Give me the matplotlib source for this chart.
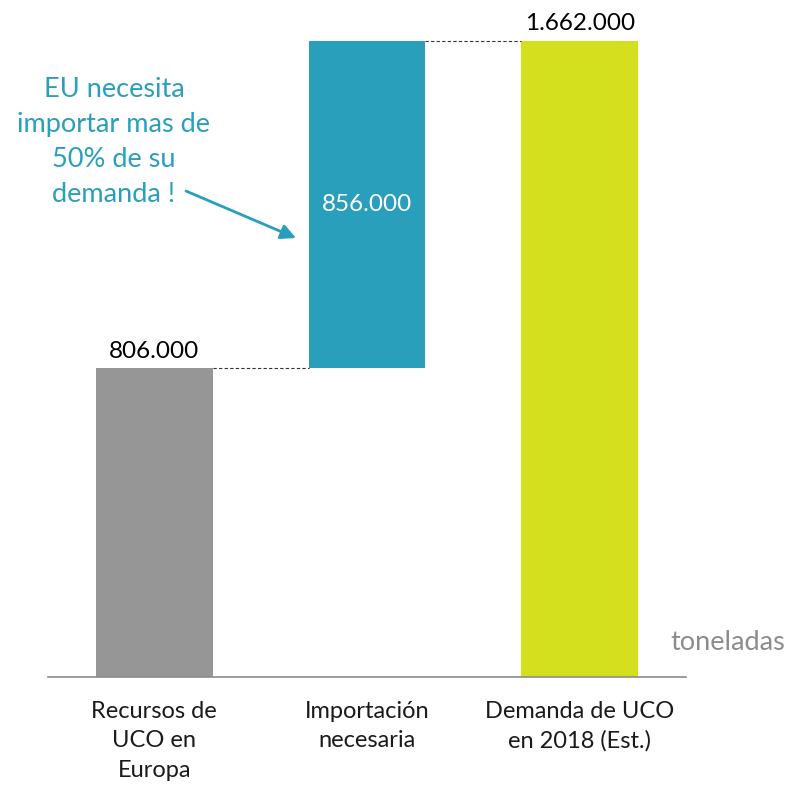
import numpy as np
import matplotlib.pyplot as plt

plt.rcParams['font.family'] = ['Lato', 'DejaVu Sans']

# data (toneladas)
categories = ["Recursos de\nUCO en\nEuropa", "Importación\nnecesaria", "Demanda de UCO\nen 2018 (Est.)"]
recursos = 806000
importacion = 856000
demanda = 1662000
bottoms = [0, recursos, 0]
heights = [recursos, importacion, demanda]
labels = ["806.000", "856.000", "1.662.000"]
colors = ["#969696", "#2a9fbc", "#d4e01d"]

fig = plt.figure(figsize=(7.89, 7.85), dpi=100)
ax = fig.add_axes([48/789, 108/785, (686-48)/789, 666/785])

x = np.arange(len(categories))
w = 0.55
ax.bar(x, heights, bottom=bottoms, width=w, color=colors, zorder=2)

# connectors
ax.plot([x[0] + w/2, x[1] - w/2], [recursos, recursos], ls=(0, (3, 2)), color="#333333", lw=0.8)
ax.plot([x[1] + w/2, x[2] - w/2], [demanda, demanda], ls=(0, (3, 2)), color="#333333", lw=0.8)

# value labels
ax.text(x[0], recursos + 18000, labels[0], ha="center", va="bottom", fontsize=17.5, color="black")
ax.text(x[1], recursos + importacion/2, labels[1], ha="center", va="center", fontsize=17.5, color="white")
ax.text(x[2], demanda + 18000, labels[2], ha="center", va="bottom", fontsize=17.5, color="black")

ax.set_xlim(-0.5, 2.5)
ax.set_ylim(0, 1.74e6)
for s in ["top", "right", "left"]:
    ax.spines[s].set_visible(False)
ax.spines["bottom"].set_color("#8c8c8c")
ax.spines["bottom"].set_linewidth(1.2)
ax.set_yticks([])
ax.set_xticks(x)
ax.set_xticklabels(categories, fontsize=17, color="#1a1a1a", linespacing=1.5)
ax.tick_params(axis="x", length=0, pad=17)

# annotation
fig.text(114/789, 1 - 142/785, "EU necesita\nimportar mas de\n50% de su\ndemanda !",
         ha="center", va="center", fontsize=19.5, color="#2a9fbc", linespacing=1.5)
ax.annotate("", xy=(296, 785 - 238), xytext=(186, 785 - 191),
            xycoords="figure pixels", textcoords="figure pixels",
            arrowprops=dict(arrowstyle="-|>,head_length=0.9,head_width=0.45",
                            color="#2a9fbc", lw=2, shrinkA=0, shrinkB=0))

fig.text(785/789, 1 - 643/785, "toneladas", ha="right", va="center", fontsize=19.5, color="#8c8c8c")

fig.savefig("out.png", dpi=100)
